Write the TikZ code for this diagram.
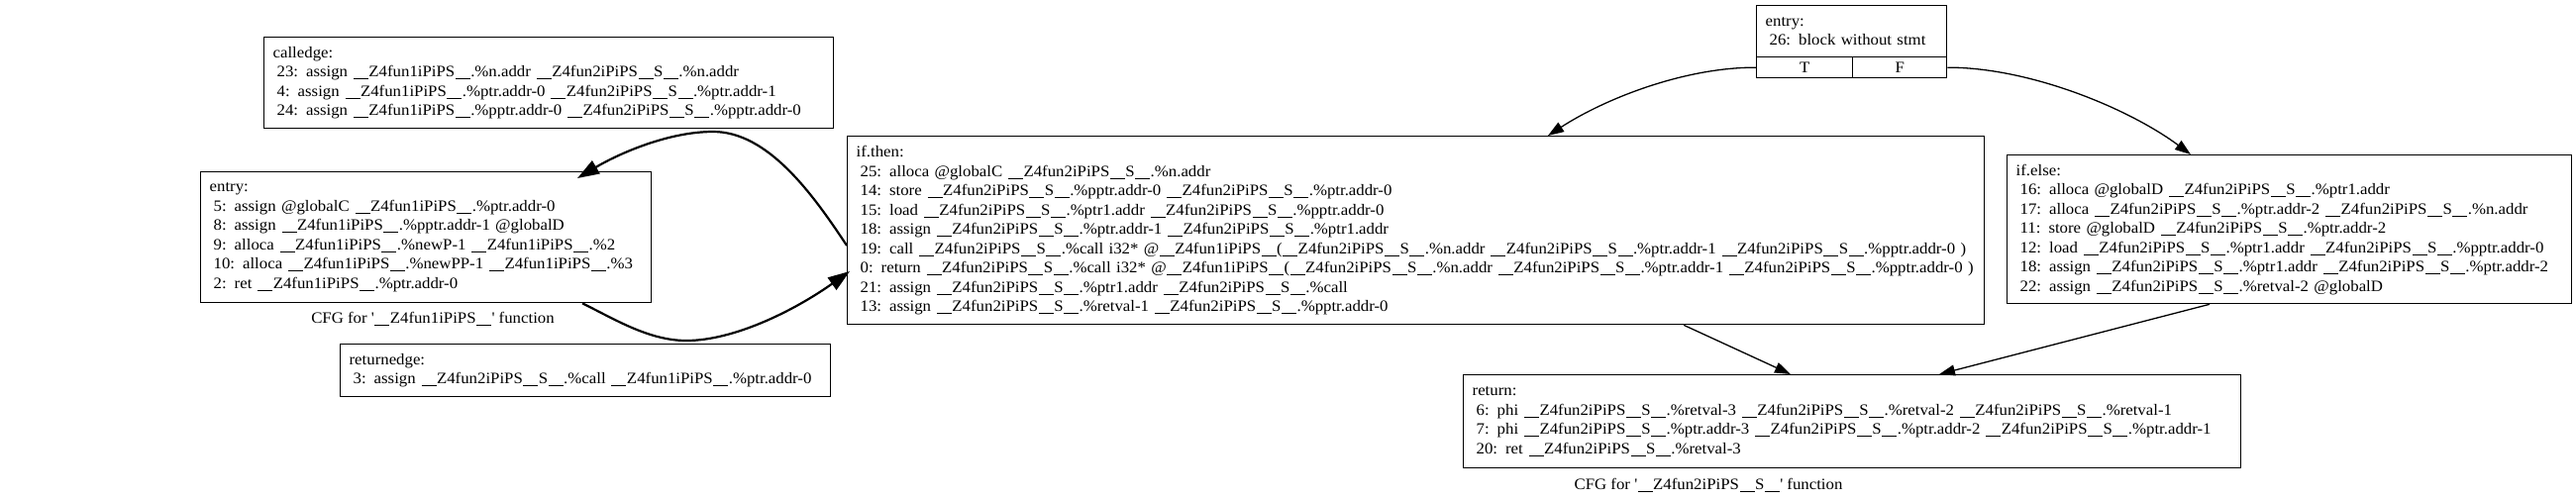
\documentclass[tikz,border=0pt]{standalone}
\usepackage{fontspec}
\setmainfont[FakeStretch=1.05]{Liberation Serif}
\usetikzlibrary{arrows.meta,calc}
\newcommand\LL[1]{\mbox{\hspace{4pt}#1}}
\newcommand\us{\kern0.5pt\rule[-2.6pt]{15pt}{0.85pt}\kern0.5pt}
\newcommand\Zo{\us Z4fun1iPiPS\us}
\newcommand\Zt{\us Z4fun2iPiPS\us S\us}
\newcommand\qq{\textquotesingle}
\begin{document}
\begin{tikzpicture}[x=1pt,y=-1pt,
  txt/.style={font=\fontsize{16}{19.5}\selectfont},
  blk/.style={txt,draw,line width=1.3pt,anchor=north west,inner xsep=9pt,inner ysep=0pt,align=left},
  cell/.style={txt,draw,line width=1.3pt,anchor=north west,inner sep=0pt},
  flow/.style={line width=1.3pt,-{Triangle[length=16pt,width=11pt]}},
  bold/.style={line width=2.2pt,-{Triangle[length=22pt,width=15pt]}}]
\useasboundingbox (0,0) rectangle (2601,504);
% function 1
\node[blk,text width=557pt,minimum height=92pt] (calledge) at (266,37)
 {calledge:\\\LL{23: assign \Zo.\%n.addr \Zt.\%n.addr}\\\LL{4: assign \Zo.\%ptr.addr-0 \Zt.\%ptr.addr-1}\\\LL{24: assign \Zo.\%pptr.addr-0 \Zt.\%pptr.addr-0}};
\node[blk,text width=437pt,minimum height=132pt] (entry1) at (202,173)
 {entry:\\\LL{5: assign @globalC \Zo.\%ptr.addr-0}\\\LL{8: assign \Zo.\%pptr.addr-1 @globalD}\\\LL{9: alloca \Zo.\%newP-1 \Zo.\%2}\\\LL{10: alloca \Zo.\%newPP-1 \Zo.\%3}\\\LL{2: ret \Zo.\%ptr.addr-0}};
\node[txt] (cap1) at (437,322) {CFG for \qq\Zo\qq{} function};
\node[blk,text width=477pt,minimum height=53pt] (returnedge) at (343,347)
 {returnedge:\\\LL{3: assign \Zt.\%call \Zo.\%ptr.addr-0}};
% function 2
\node[blk,text width=174pt,minimum height=52pt] (entry2) at (1773,5)
 {entry:\\\LL{26: block without stmt}};
\node[cell,minimum width=97pt,minimum height=21pt] (T) at (1773,57) {T};
\node[cell,minimum width=95pt,minimum height=21pt] (F) at (1870,57) {F};
\node[blk,text width=1130pt,minimum height=190pt] (ifthen) at (855,137)
 {if.then:\\\LL{25: alloca @globalC \Zt.\%n.addr}\\\LL{14: store \Zt.\%pptr.addr-0 \Zt.\%ptr.addr-0}\\\LL{15: load \Zt.\%ptr1.addr \Zt.\%pptr.addr-0}\\\LL{18: assign \Zt.\%ptr.addr-1 \Zt.\%ptr1.addr}\\\LL{19: call \Zt.\%call i32* @\Zo(\Zt.\%n.addr \Zt.\%ptr.addr-1 \Zt.\%pptr.addr-0 )}\\\LL{0: return \Zt.\%call i32* @\Zo(\Zt.\%n.addr \Zt.\%ptr.addr-1 \Zt.\%pptr.addr-0 )}\\\LL{21: assign \Zt.\%ptr1.addr \Zt.\%call}\\\LL{13: assign \Zt.\%retval-1 \Zt.\%pptr.addr-0}};
\node[blk,text width=552pt,minimum height=150pt] (ifelse) at (2026,156)
 {if.else:\\\LL{16: alloca @globalD \Zt.\%ptr1.addr}\\\LL{17: alloca \Zt.\%ptr.addr-2 \Zt.\%n.addr}\\\LL{11: store @globalD \Zt.\%ptr.addr-2}\\\LL{12: load \Zt.\%ptr1.addr \Zt.\%pptr.addr-0}\\\LL{18: assign \Zt.\%ptr1.addr \Zt.\%ptr.addr-2}\\\LL{22: assign \Zt.\%retval-2 @globalD}};
\node[blk,text width=767pt,minimum height=94pt] (return) at (1477,378)
 {return:\\\LL{6: phi \Zt.\%retval-3 \Zt.\%retval-2 \Zt.\%retval-1}\\\LL{7: phi \Zt.\%ptr.addr-3 \Zt.\%ptr.addr-2 \Zt.\%ptr.addr-1}\\\LL{20: ret \Zt.\%retval-3}};
\node[txt] (cap2) at (1725,490) {CFG for \qq\Zt\qq{} function};
% edges
\draw[flow] (T.west) .. controls (1700,68) and (1620,100) .. ($(ifthen.north west)+(708,0)$);
\draw[flow] (F.east) .. controls (2050,68) and (2150,110) .. ($(ifelse.north west)+(186,0)$);
\draw[flow] ($(ifthen.south west)+(845,0)$) -- ($(return.north west)+(331,0)$);
\draw[flow] ($(ifelse.south west)+(205,0)$) -- ($(return.north west)+(481,0)$);
\draw[bold] ($(ifthen.north west)+(0,111)$) .. controls (820,195) and (775,133) .. (720,133)
  .. controls (675,133) and (625,155) .. ($(entry1.north west)+(381,7)$);
\draw[bold] ($(entry1.south west)+(386,0)$) .. controls (620,322) and (655,344) .. (693,344)
  .. controls (740,344) and (800,315) .. ($(ifthen.north west)+(3,137)$);
\end{tikzpicture}
\end{document}
